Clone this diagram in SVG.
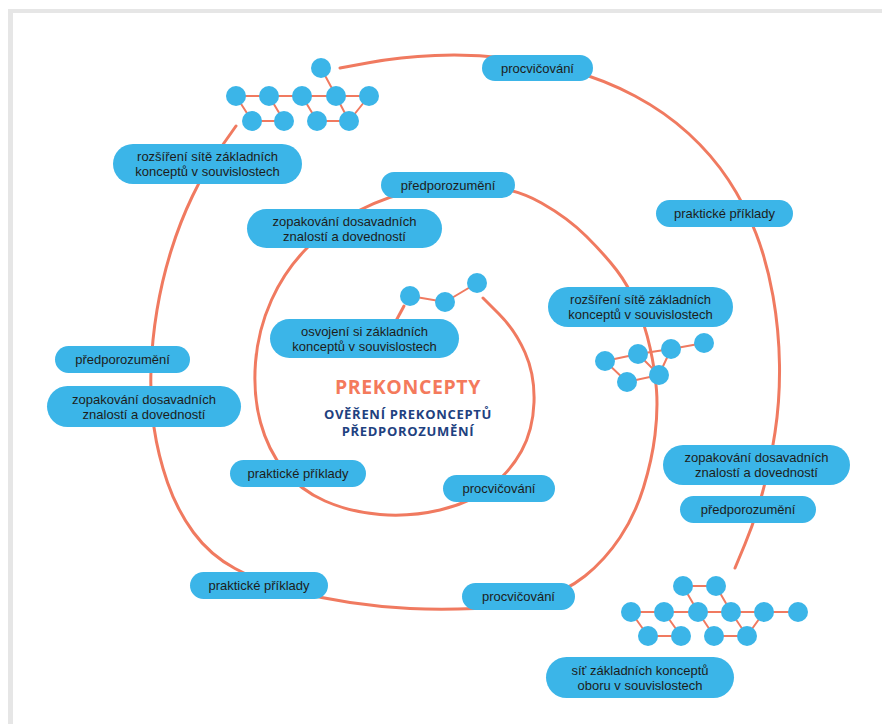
<svg xmlns="http://www.w3.org/2000/svg" width="882" height="724" viewBox="0 0 882 724">
<style>
.spiral{fill:none;stroke:#f07a60;stroke-width:3;stroke-linecap:round}
.edge{stroke:#f07a60;stroke-width:2;fill:none}
.dot{fill:#3bb5e8}
.box{fill:#3bb5e8}
.lbl{font-family:"Liberation Sans",Arial,sans-serif;font-size:13px;fill:#1d1d1b;text-anchor:middle}
.t1{font-family:"Open Sans","Liberation Sans",sans-serif;font-weight:700;font-size:19.5px;fill:#f47a5c;text-anchor:middle;letter-spacing:0.6px}
.t2{font-family:"Open Sans","Liberation Sans",sans-serif;font-weight:700;font-size:13px;fill:#1e4180;text-anchor:middle;letter-spacing:0.7px}
</style>
<rect x="0" y="0" width="882" height="724" fill="#ffffff"/>
<rect x="8" y="9" width="874" height="715" fill="#e6e6e6"/>
<rect x="13" y="13" width="869" height="711" fill="#ffffff"/>

<g id="connectors">
<path class="spiral" d="M483,298 L499,314 Q515,330 525,352.5 Q535,375 534,402.5 Q533,430 521.5,451 Q510,472 490,487.5 Q470,503 440,510 Q410,517 380,514.5 Q350,512 325,501 Q300,490 284,470 Q268,450 260.5,422.5 Q253,395 255.5,362.5 Q258,330 271.5,300 Q285,270 307.5,247.5 Q330,225 360,210 Q390,195 420,189.5 Q450,184 482.5,186 Q515,188 541.5,203 Q568,218 586.5,236.5 Q605,255 616.5,270 Q628,285 636.5,305 Q645,325 650,347.5 Q655,370 656.5,390 Q658,410 655,435 Q652,460 643.5,487.5 Q635,515 620,537.5 Q605,560 585,576 Q565,592 537.5,599.5 Q510,607 475,608.5 Q440,610 410,608.5 Q380,607 350,602.5 Q320,598 290,590 Q260,582 235,568.5 Q210,555 193.5,532.5 Q177,510 167.5,482.5 Q158,455 154,427.5 Q150,400 151,370 Q152,340 157,310 Q162,280 171,251 Q180,222 192.5,196 Q205,170 220.5,148 L236,126"/>
<path class="spiral" d="M340,68 L370,62.5 Q400,57 435,55.5 Q470,54 505,58 Q540,62 572.5,71 Q605,80 635,96 Q665,112 688.5,133.5 Q712,155 728.5,180 Q745,205 756,233.5 Q767,262 773,296 Q779,330 779.5,365 Q780,400 775,432.5 Q770,465 762.5,492.5 Q755,520 745,544 L735,568"/>
<path class="spiral" d="M397,319 L404,306"/>
</g>

<g id="cluster-top">
<path class="edge" d="M236,96 H369 M252,121 H284 M317,121 H349 M236,96 L252,121 M269,96 L284,121 M302,96 L317,121 M336,96 L349,121 M369,96 L349,121 M336,96 L321,68"/>
<circle class="dot" cx="321" cy="68" r="10"/>
<circle class="dot" cx="236" cy="96" r="10"/>
<circle class="dot" cx="269" cy="96" r="10"/>
<circle class="dot" cx="302" cy="96" r="10"/>
<circle class="dot" cx="336" cy="96" r="10"/>
<circle class="dot" cx="369" cy="96" r="10"/>
<circle class="dot" cx="252" cy="121" r="10"/>
<circle class="dot" cx="284" cy="121" r="10"/>
<circle class="dot" cx="317" cy="121" r="10"/>
<circle class="dot" cx="349" cy="121" r="10"/>
</g>

<g id="cluster-inner">
<path class="edge" d="M410,296 L445,302 L477,283"/>
<circle class="dot" cx="410" cy="296" r="10"/>
<circle class="dot" cx="445" cy="302" r="10"/>
<circle class="dot" cx="477" cy="283" r="10"/>
</g>

<g id="cluster-right">
<path class="edge" d="M605,361 L638,354 L671,349 L704,343 M605,361 L627,382 L659,375 M638,354 L659,375 M671,349 L659,375"/>
<circle class="dot" cx="605" cy="361" r="10"/>
<circle class="dot" cx="638" cy="354" r="10"/>
<circle class="dot" cx="671" cy="349" r="10"/>
<circle class="dot" cx="704" cy="343" r="10"/>
<circle class="dot" cx="627" cy="382" r="10"/>
<circle class="dot" cx="659" cy="375" r="10"/>
</g>

<g id="cluster-bottom">
<path class="edge" d="M631,612 H798 M683,586 H716 M648,636 H681 M714,636 H747 M631,612 L648,636 M664,612 L681,636 M698,612 L714,636 M731,612 L747,636 M764,612 L747,636 M683,586 L698,612 M716,586 L731,612"/>
<circle class="dot" cx="683" cy="586" r="10"/>
<circle class="dot" cx="716" cy="586" r="10"/>
<circle class="dot" cx="631" cy="612" r="10"/>
<circle class="dot" cx="664" cy="612" r="10"/>
<circle class="dot" cx="698" cy="612" r="10"/>
<circle class="dot" cx="731" cy="612" r="10"/>
<circle class="dot" cx="764" cy="612" r="10"/>
<circle class="dot" cx="798" cy="612" r="10"/>
<circle class="dot" cx="648" cy="636" r="10"/>
<circle class="dot" cx="681" cy="636" r="10"/>
<circle class="dot" cx="714" cy="636" r="10"/>
<circle class="dot" cx="747" cy="636" r="10"/>
</g>

<g id="center-title">
<text class="t1" x="408" y="394">PREKONCEPTY</text>
<text class="t2" x="408" y="419">OVĚŘENÍ PREKONCEPTŮ</text>
<text class="t2" x="408" y="436">PŘEDPOROZUMĚNÍ</text>
</g>

<g id="n-procvicovani-top"><rect class="box" x="482" y="55" width="111" height="26" rx="13"/><text class="lbl" x="537.5" y="72.5">procvičování</text></g>
<g id="n-prakticke-right"><rect class="box" x="656" y="200" width="137" height="27" rx="13.5"/><text class="lbl" x="724.5" y="218">praktické příklady</text></g>
<g id="n-rozsireni-tl"><rect class="box" x="113" y="144" width="189" height="40" rx="20"/><text class="lbl" x="207.5" y="161">rozšíření sítě základních</text><text class="lbl" x="207.5" y="176">konceptů v souvislostech</text></g>
<g id="n-predporozumeni-inner"><rect class="box" x="381" y="172" width="134" height="26" rx="13"/><text class="lbl" x="448" y="189.5">předporozumění</text></g>
<g id="n-zopakovani-inner"><rect class="box" x="247" y="209" width="195" height="39" rx="19.5"/><text class="lbl" x="344.5" y="225.5">zopakování dosavadních</text><text class="lbl" x="344.5" y="240.5">znalostí a dovedností</text></g>
<g id="n-rozsireni-right"><rect class="box" x="548" y="287" width="185" height="40" rx="20"/><text class="lbl" x="640.5" y="304">rozšíření sítě základních</text><text class="lbl" x="640.5" y="319">konceptů v souvislostech</text></g>
<g id="n-osvojeni"><rect class="box" x="270" y="319" width="189" height="39" rx="19.5"/><text class="lbl" x="364.5" y="335.5">osvojení si základních</text><text class="lbl" x="364.5" y="350.5">konceptů v souvislostech</text></g>
<g id="n-predporozumeni-left"><rect class="box" x="55" y="346" width="135" height="27" rx="13.5"/><text class="lbl" x="122.5" y="364">předporozumění</text></g>
<g id="n-zopakovani-left"><rect class="box" x="47" y="386" width="194" height="41" rx="20.5"/><text class="lbl" x="144" y="403.5">zopakování dosavadních</text><text class="lbl" x="144" y="418.5">znalostí a dovedností</text></g>
<g id="n-prakticke-inner"><rect class="box" x="230" y="460" width="136" height="27" rx="13.5"/><text class="lbl" x="298" y="478">praktické příklady</text></g>
<g id="n-procvicovani-inner"><rect class="box" x="443" y="475" width="112" height="27" rx="13.5"/><text class="lbl" x="499" y="493">procvičování</text></g>
<g id="n-zopakovani-right"><rect class="box" x="663" y="445" width="187" height="40" rx="20"/><text class="lbl" x="756.5" y="462">zopakování dosavadních</text><text class="lbl" x="756.5" y="477">znalostí a dovedností</text></g>
<g id="n-predporozumeni-right"><rect class="box" x="680" y="496" width="136" height="27" rx="13.5"/><text class="lbl" x="748" y="514">předporozumění</text></g>
<g id="n-prakticke-bottom"><rect class="box" x="190" y="572" width="138" height="27" rx="13.5"/><text class="lbl" x="259" y="590">praktické příklady</text></g>
<g id="n-procvicovani-bottom"><rect class="box" x="462" y="583" width="113" height="27" rx="13.5"/><text class="lbl" x="518.5" y="601">procvičování</text></g>
<g id="n-sit"><rect class="box" x="546" y="657" width="188" height="41" rx="20.5"/><text class="lbl" x="640" y="674.5">síť základních konceptů</text><text class="lbl" x="640" y="689.5">oboru v souvislostech</text></g>
</svg>
